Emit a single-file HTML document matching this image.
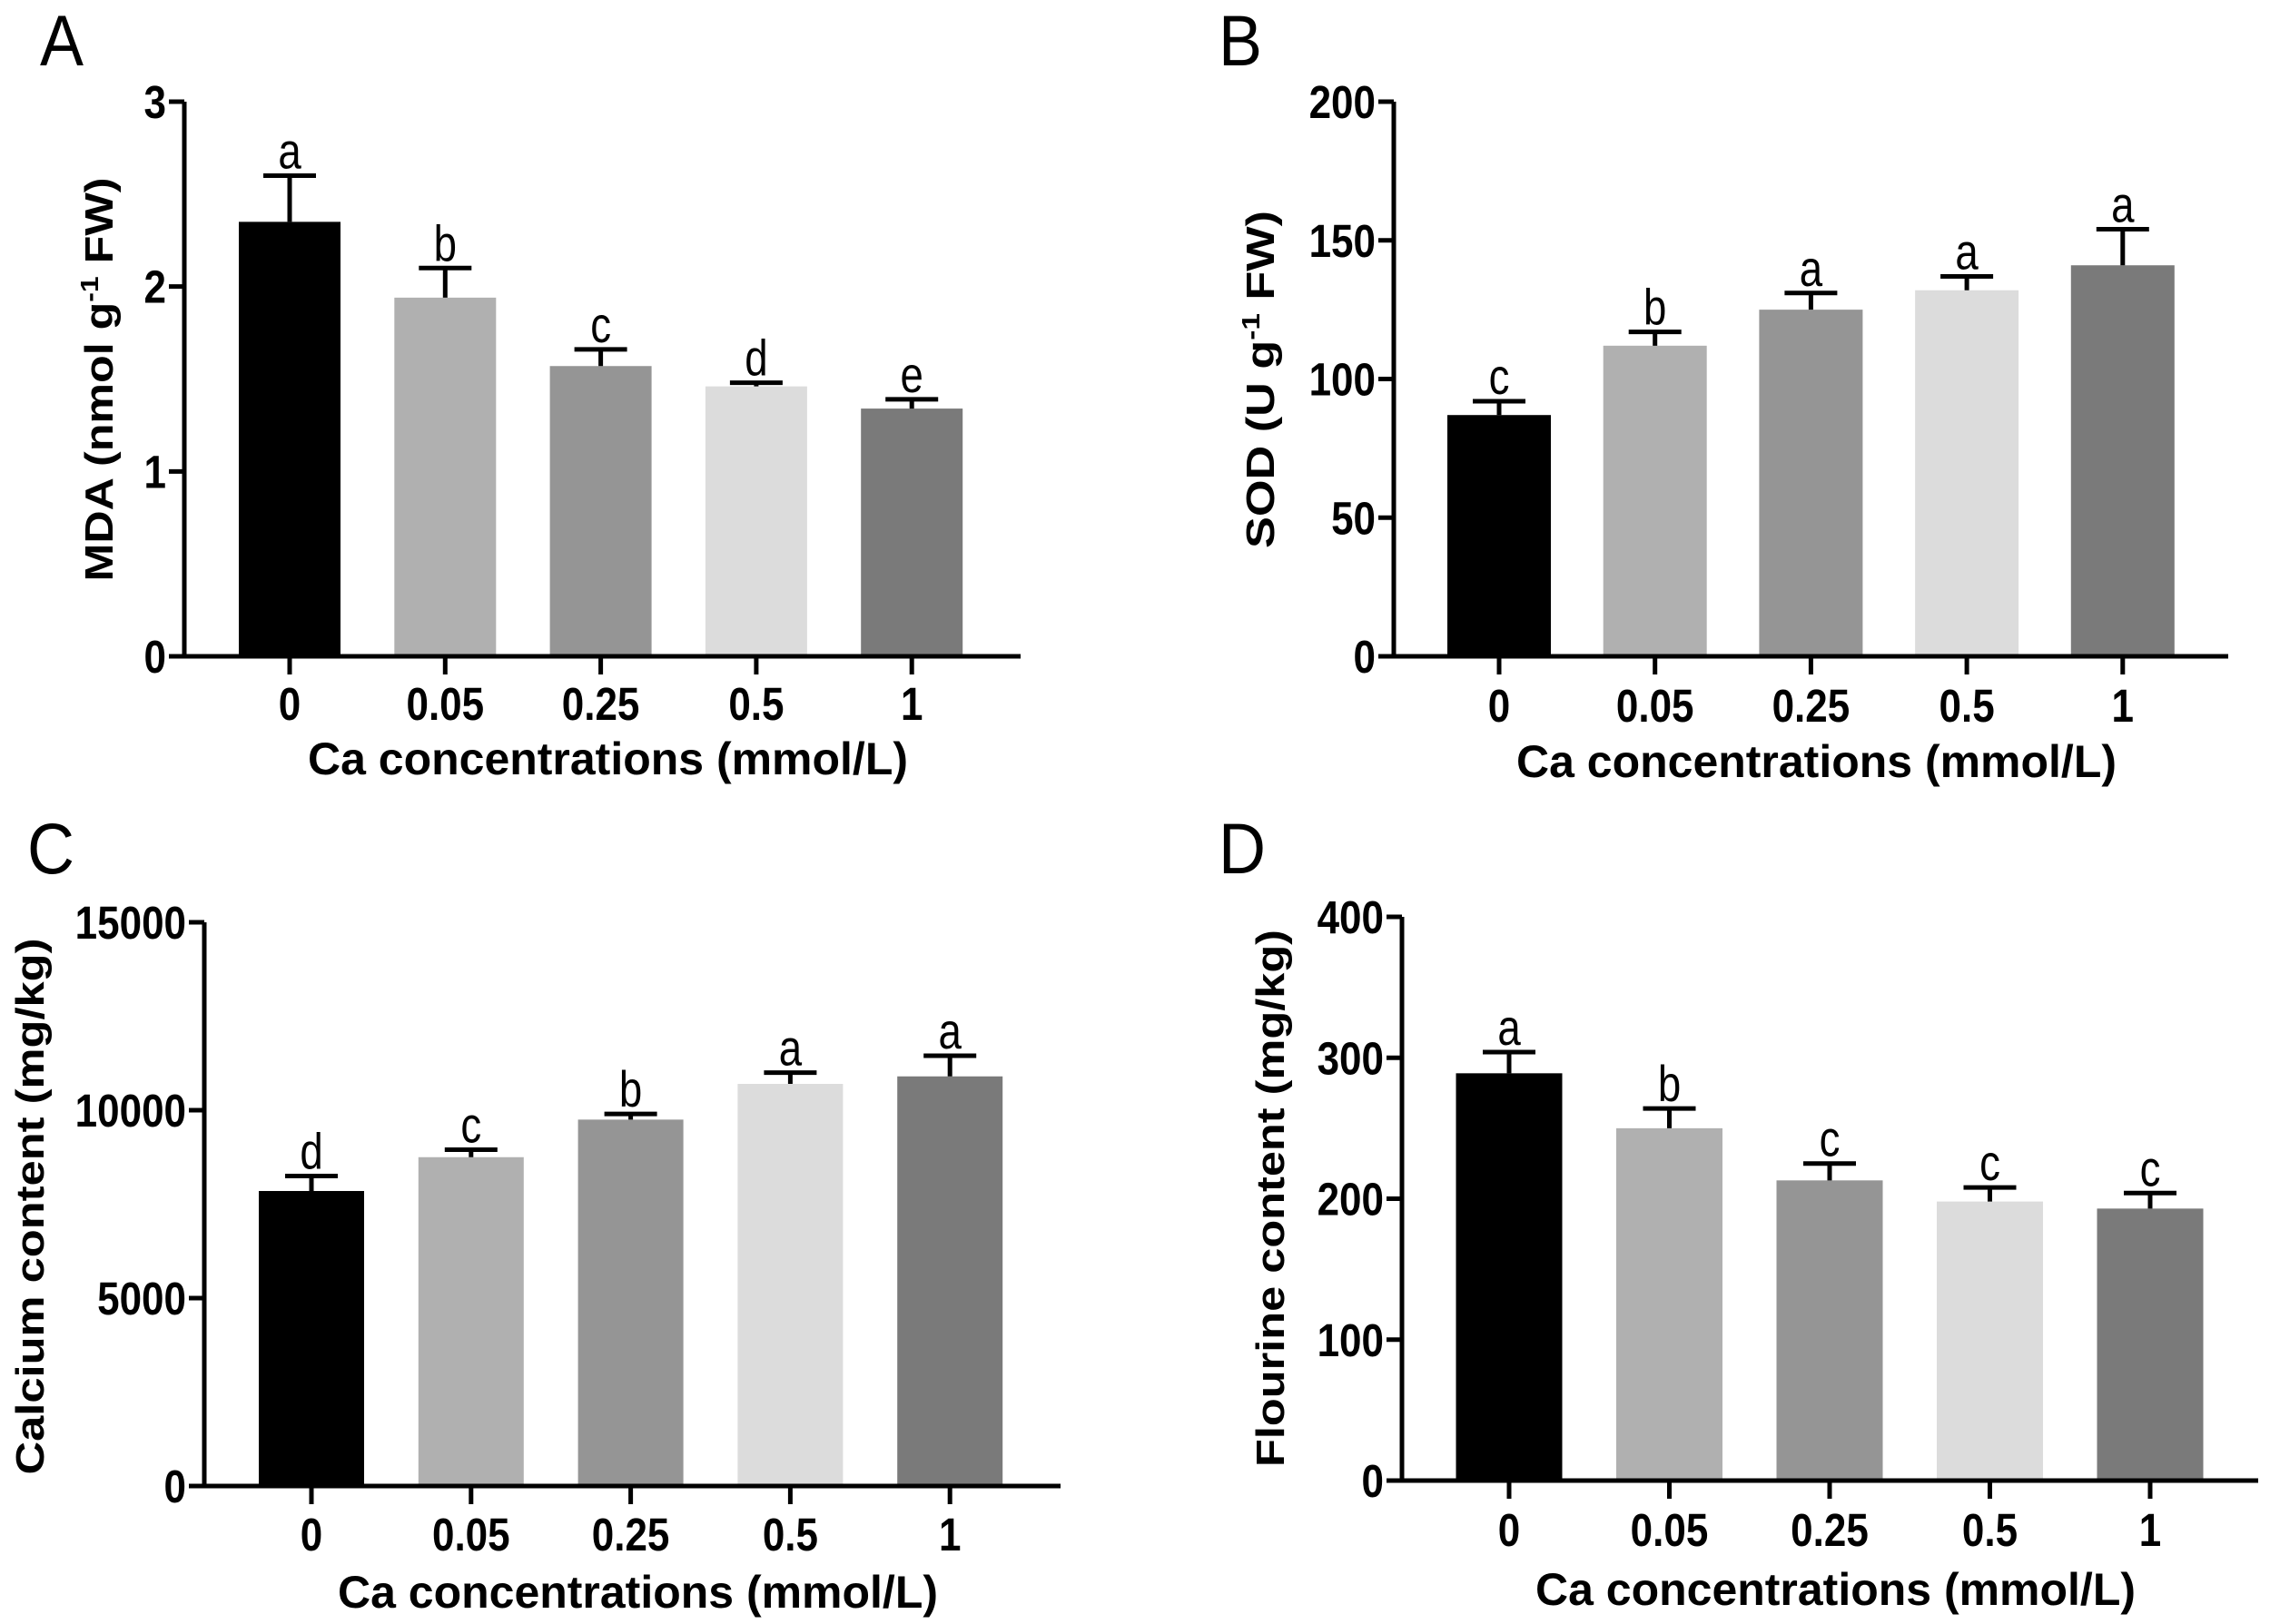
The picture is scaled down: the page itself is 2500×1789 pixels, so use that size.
<!DOCTYPE html>
<html><head><meta charset="utf-8"><style>
html,body{margin:0;padding:0;background:#fff;}
svg{display:block;}
text{font-family:"Liberation Sans",sans-serif;}
</style></head><body>
<svg id="fig" width="2500" height="1789" viewBox="0 0 2500 1789" xmlns="http://www.w3.org/2000/svg"></svg>
<script>
const categories = ["0","0.05","0.25","0.5","1"];
const barColors = ["#000000","#b0b0b0","#959595","#dcdcdc","#7a7a7a"];
// Panel A: MDA
const mdaValues = [2.35,1.94,1.57,1.46,1.34];
const mdaErrors = [0.25,0.16,0.09,0.02,0.05];
const mdaLetters = ["a","b","c","d","e"];
const mdaTicks = [0,1,2,3];
// Panel B: SOD
const sodValues = [87,112,125,132,141];
const sodErrors = [5,5,6,5,13];
const sodLetters = ["c","b","a","a","a"];
const sodTicks = [0,50,100,150,200];
// Panel C: Calcium
const caValues = [7850,8750,9750,10700,10900];
const caErrors = [400,200,150,300,550];
const caLetters = ["d","c","b","a","a"];
const caTicks = [0,5000,10000,15000];
// Panel D: Fluorine
const fValues = [289,250,213,198,193];
const fErrors = [15,14,12,10,11];
const fLetters = ["a","b","c","c","c"];
const fTicks = [0,100,200,300,400];

const NS = "http://www.w3.org/2000/svg";
const svg = document.getElementById('fig');
function mk(tag, attrs, parent, txt){
  const e = document.createElementNS(NS, tag);
  for (const k in attrs) e.setAttribute(k, attrs[k]);
  if (txt !== undefined) e.textContent = txt;
  parent.appendChild(e);
  return e;
}

function panel(cfg){
  const g = mk('g', {}, svg);
  
  
  const yMax = cfg.ticks[cfg.ticks.length-1];
  const yScale = v => cfg.y0 - (v / yMax) * (cfg.y0 - cfg.yTop);
  const xScale = i => cfg.c0 + i * cfg.step;

  const letter = mk('text', {x: 0, y: 0, transform:`translate(${cfg.lx},${cfg.ly}) scale(1,1.1)`, 'font-size': 72, fill:'#000'}, g, cfg.label);
  
  

  cfg.values.forEach((v, i) => {
    const cx = xScale(i);
    const bar = mk('rect', {x: cx - cfg.bw/2, y: yScale(v), width: cfg.bw, height: cfg.y0 - yScale(v), fill: barColors[i]}, g);
    
    
    const top = yScale(v + cfg.errors[i]);
    const eb = mk('path', {d: `M${cx} ${yScale(v)} V${top} M${cx-29} ${top} H${cx+29}`, stroke:'#000', 'stroke-width':5, fill:'none'}, g);
    
    
    const sl = mk('text', {x: 0, y: 0, transform:`translate(${cx},${top - 8}) scale(0.95,1.15)`, 'text-anchor':'middle', 'font-size': 48, fill:'#000'}, g, cfg.letters[i]);
    
    
    const tk = mk('line', {x1: cx, x2: cx, y1: cfg.y0, y2: cfg.y0 + 20, stroke:'#000', 'stroke-width':5}, g);
    
    
    const tl = mk('text', {x: 0, y: 0, transform:`translate(${cx},${cfg.tickY + 18}) scale(1,1.15)`, 'text-anchor':'middle', 'font-size': 44, 'font-weight':'bold', fill:'#000'}, g, categories[i]);
    
    
  });

  cfg.ticks.forEach(t => {
    const y = yScale(t);
    const tk = mk('line', {x1: cfg.ax - 17, x2: cfg.ax, y1: y, y2: y, stroke:'#000', 'stroke-width':5}, g);
    
    
    const tl = mk('text', {x: 0, y: 0, transform:`translate(${cfg.ax - 20},${y + 18}) scale(1,1.15)`, 'text-anchor':'end', 'font-size': 44, 'font-weight':'bold', fill:'#000'}, g, String(t));
    
    
  });

  const axes = mk('path', {d: `M${cfg.ax} ${cfg.yTop} V${cfg.y0} H${cfg.xEnd}`, stroke:'#000', 'stroke-width':5, fill:'none'}, g);
  
  

  const xt = mk('text', {x: (cfg.ax + cfg.xEnd)/2 + 6, y: cfg.titleY + 18, 'text-anchor':'middle', 'font-size': 50, 'font-weight':'bold', fill:'#000', textLength: 661, lengthAdjust:'spacingAndGlyphs'}, g, 'Ca concentrations (mmol/L)');
  
  

  const cy = cfg.ylCenter;
  const yt = mk('text', {x: 0, y: 0, transform: `translate(${cfg.ylx + 16},${cy}) rotate(-90)`, 'text-anchor':'middle', 'font-size': 44, 'font-weight':'bold', fill:'#000', textLength: cfg.ylLen, lengthAdjust:'spacingAndGlyphs'}, g);
  
  
  if (cfg.sup) {
    mk('tspan', {}, yt, cfg.ytitle[0]);
    mk('tspan', {dy: -16, 'font-size': 28}, yt, '-1');
    mk('tspan', {dy: 16}, yt, cfg.ytitle[1]);
  } else {
    yt.textContent = cfg.ytitle;
  }
}

panel({name:'panel-a-mda', label:'A', lx:44, ly:72, values:mdaValues, errors:mdaErrors, letters:mdaLetters, ticks:mdaTicks,
  ax:203, yTop:112, y0:723, xEnd:1124, c0:319, step:171.3, bw:112, tickY:775, titleY:835,
  ylx:108, ylCenter:418, ylLen:445, sup:true, ytitle:['MDA (nmol g',' FW)']});
panel({name:'panel-b-sod', label:'B', lx:1342, ly:72, values:sodValues, errors:sodErrors, letters:sodLetters, ticks:sodTicks,
  ax:1535, yTop:112, y0:723, xEnd:2454, c0:1651, step:171.7, bw:114, tickY:777, titleY:838,
  ylx:1387, ylCenter:418, ylLen:372, sup:true, ytitle:['SOD (U g',' FW)']});
panel({name:'panel-c-calcium', label:'C', lx:30, ly:962, values:caValues, errors:caErrors, letters:caLetters, ticks:caTicks,
  ax:225, yTop:1016, y0:1637, xEnd:1168, c0:343, step:175.8, bw:116, tickY:1690, titleY:1753,
  ylx:32, ylCenter:1329, ylLen:591, sup:false, ytitle:'Calcium content (mg/kg)'});
panel({name:'panel-d-fluorine', label:'D', lx:1342, ly:962, values:fValues, errors:fErrors, letters:fLetters, ticks:fTicks,
  ax:1544, yTop:1010, y0:1631, xEnd:2487, c0:1662, step:176.5, bw:117, tickY:1685, titleY:1750,
  ylx:1398, ylCenter:1320, ylLen:592, sup:false, ytitle:'Flourine content (mg/kg)'});
</script>
</body></html>
